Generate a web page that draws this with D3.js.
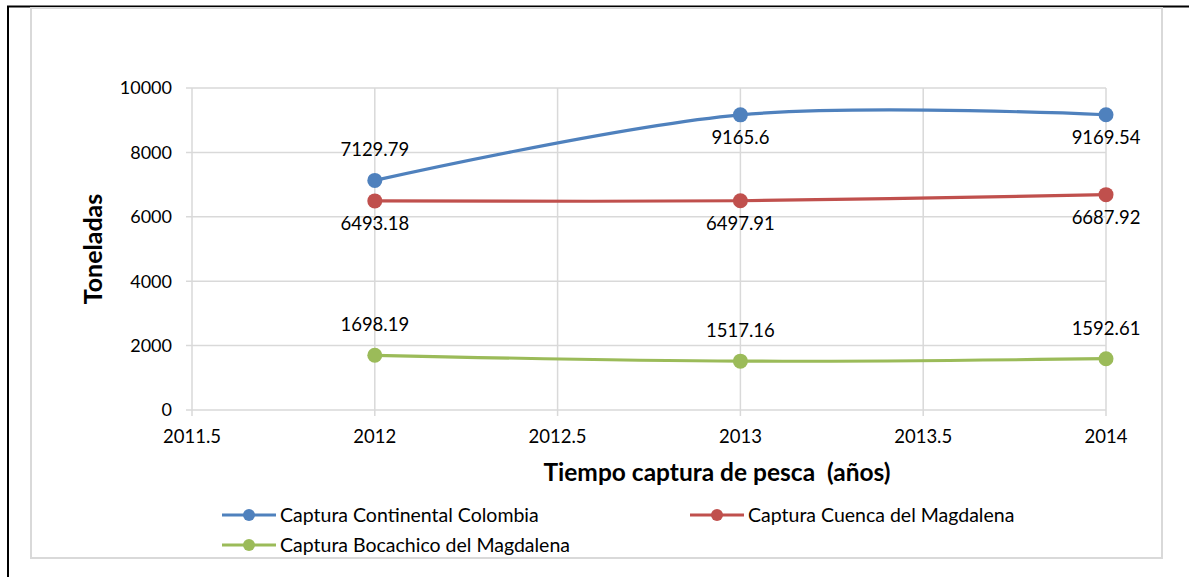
<!DOCTYPE html>
<html>
<head>
<meta charset="utf-8">
<script src="https://cdn.jsdelivr.net/npm/d3@7"></script>
<style>
  body { margin: 0; background: #fff; }
  svg { display: block; font-family: Lato, "Open Sans", sans-serif; }
</style>
</head>
<body>
<div id="chart"></div>
<script>
// data
const years = [2012, 2013, 2014];
const continental = [7129.79, 9165.6, 9169.54];
const cuenca = [6493.18, 6497.91, 6687.92];
const bocachico = [1698.19, 1517.16, 1592.61];
const xTicks = [2011.5, 2012, 2012.5, 2013, 2013.5, 2014];
const yTicks = [0, 2000, 4000, 6000, 8000, 10000];

const series = [
  {name: 'Captura Continental Colombia', values: continental, color: '#4F81BD', labelPos: ['above', 'below', 'below']},
  {name: 'Captura Cuenca del Magdalena', values: cuenca, color: '#C0504D', labelPos: ['below', 'below', 'below']},
  {name: 'Captura Bocachico del Magdalena', values: bocachico, color: '#9BBB59', labelPos: ['above', 'above', 'above']}
];

const W = 1189, H = 577;
const svg = d3.select('#chart').append('svg')
  .attr('width', W)
  .attr('height', H);

// outer frame (black on left/top) and chart border
svg.append('line').attr('x1', 8).attr('y1', 6).attr('x2', 8).attr('y2', H)
  .attr('stroke', '#000').attr('stroke-width', 2);
svg.append('line').attr('x1', 7).attr('y1', 6.5).attr('x2', W).attr('y2', 6.5)
  .attr('stroke', '#000').attr('stroke-width', 2);
svg.append('rect')
  .attr('x', 31).attr('y', 8)
  .attr('width', 1131).attr('height', 550)
  .attr('fill', '#fff')
  .attr('stroke', '#d9d9d9').attr('stroke-width', 2);

let x = d3.scaleLinear().domain([2011.5, 2014]).range([192, 1106]);
let y = d3.scaleLinear().domain([0, 10000]).range([410, 88]);

// gridlines
const grid = svg.append('g');
grid.selectAll('.hg').data(yTicks).enter().append('line')
  .attr('x1', 186).attr('x2', x(2014))
  .attr('y1', d => y(d)).attr('y2', d => y(d))
  .attr('stroke', '#d9d9d9').attr('stroke-width', 1.5);
grid.selectAll('.vg').data(xTicks).enter().append('line')
  .attr('x1', d => x(d)).attr('x2', d => x(d))
  .attr('y1', y(10000)).attr('y2', 416)
  .attr('stroke', '#d9d9d9').attr('stroke-width', 1.5);

// tick labels
svg.append('g').selectAll('text').data(yTicks).enter().append('text')
  .attr('x', 172).attr('y', d => y(d))
  .attr('dy', '0.35em')
  .attr('text-anchor', 'end')
  .attr('font-size', 18)
  .attr('fill', '#000')
  .text(d => d);
svg.append('g').selectAll('text').data(xTicks).enter().append('text')
  .attr('x', d => x(d)).attr('y', 443)
  .attr('text-anchor', 'middle')
  .attr('font-size', 18.5)
  .attr('fill', '#000')
  .text(d => d);

// axis titles
svg.append('text')
  .attr('transform', 'translate(102,249) rotate(-90)')
  .attr('text-anchor', 'middle')
  .attr('font-size', 25)
  .attr('font-weight', 'bold')
  .text('Toneladas');
svg.append('text')
  .attr('x', 717).attr('y', 481)
  .attr('text-anchor', 'middle')
  .attr('font-size', 24.5)
  .attr('font-weight', 'bold')
  .style('white-space', 'pre')
  .text('Tiempo captura de pesca  (años)');

// lines, markers and labels
const line = d3.line()
  .x((d, i) => x(years[i]))
  .y(d => y(d))
  .curve(d3.curveCardinal.tension(0));

series.forEach(s => {
  const g = svg.append('g');
  g.append('path')
    .datum(s.values)
    .attr('d', line)
    .attr('fill', 'none')
    .attr('stroke', s.color)
    .attr('stroke-width', 3.2)
    .attr('stroke-linecap', 'round');
  g.selectAll('circle').data(s.values).enter().append('circle')
    .attr('cx', (d, i) => x(years[i]))
    .attr('cy', d => y(d))
    .attr('r', 7.5)
    .attr('fill', s.color);
  g.selectAll('text').data(s.values).enter().append('text')
    .attr('x', (d, i) => x(years[i]))
    .attr('y', (d, i) => y(d) + (s.labelPos[i] == 'above' ? -24 : 29))
    .attr('text-anchor', 'middle')
    .attr('font-size', 18.5)
    .attr('fill', '#000')
    .text(d => d);
});

// legend
const legendPos = [[222, 515], [690, 515], [222, 545]];
series.forEach((s, i) => {
  const [lx, ly] = legendPos[i];
  const lg = svg.append('g').attr('transform', 'translate(' + lx + ',' + ly + ')');
  lg.append('line').attr('x1', 0).attr('x2', 54).attr('y1', 0).attr('y2', 0)
    .attr('stroke', s.color).attr('stroke-width', 3.2);
  lg.append('circle').attr('cx', 27).attr('cy', 0).attr('r', 6).attr('fill', s.color);
  lg.append('text').attr('x', 58).attr('y', 0).attr('dy', '0.35em')
    .attr('font-size', 19.5)
    .attr('fill', '#000')
    .text(s.name);
});
</script>
</body>
</html>
